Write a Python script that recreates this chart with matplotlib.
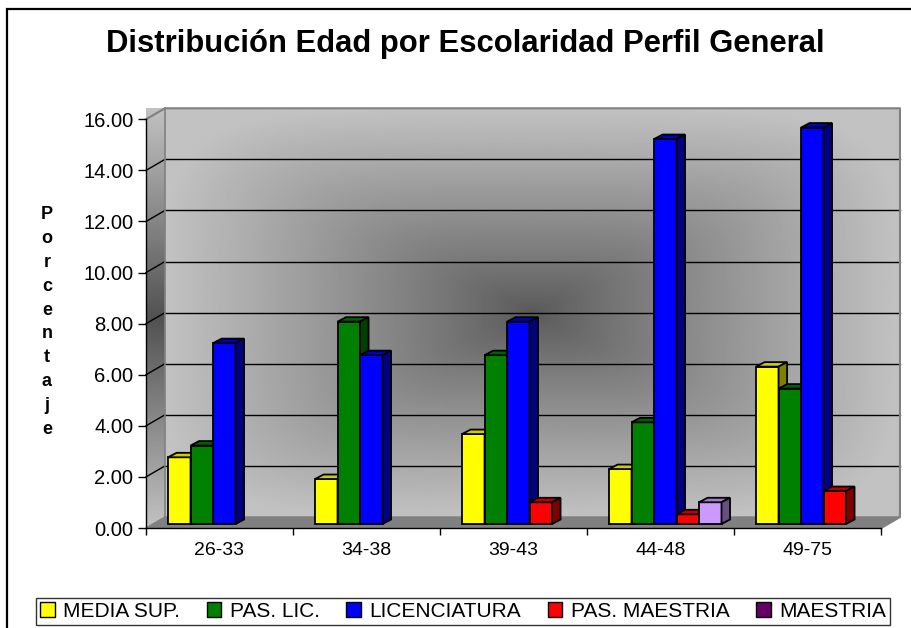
import numpy as np
import matplotlib as mpl
import matplotlib.pyplot as plt
from matplotlib.patches import Polygon, Rectangle, Patch

mpl.rcParams['font.family'] = 'Liberation Sans'

# data (percent)
categories = ['26-33', '34-38', '39-43', '44-48', '49-75']
series_names = ['MEDIA SUP.', 'PAS. LIC.', 'LICENCIATURA', 'PAS. MAESTRIA', 'MAESTRIA']
media_sup = [2.61, 1.76, 3.52, 2.15, 6.16]
pas_lic = [3.07, 7.92, 6.61, 3.98, 5.30]
licenciatura = [7.08, 6.61, 7.92, 15.07, 15.52]
pas_maestria = [0.0, 0.0, 0.85, 0.38, 1.29]
maestria = [0.0, 0.0, 0.0, 0.85, 0.0]
series = [media_sup, pas_lic, licenciatura, pas_maestria, maestria]
yticks = [0, 2, 4, 6, 8, 10, 12, 14, 16]

front_colors = ['#FFFF00', '#008000', '#0000FF', '#FF0000', '#CC99FF']
top_colors = ['#CCCC00', '#006000', '#0000C0', '#C00000', '#A37ACC']
side_colors = ['#808000', '#004000', '#000080', '#800000', '#66507F']
legend_colors = ['#FFFF00', '#008000', '#0000FF', '#FF0000', '#660066']

fig = plt.figure(figsize=(9.12, 6.28), dpi=100)
ax = fig.add_axes([146 / 912, 100 / 628, 735 / 912, 408.7 / 628])

# pseudo-3d offsets (data units)
wx, wy = 0.129, 0.431     # back wall depth
bx, by = 0.058, 0.176     # bar depth
base = 0.157              # bars sit slightly behind the front plane
gap0, bw = 0.15, 0.153    # group start offset, bar width
ncat = len(categories)
ymax = yticks[-1]

# back wall with rectangular gradient (softened corners)
u = np.linspace(-1, 1, 500)
v = np.linspace(-1, 1, 400)
U, V = np.meshgrid(u, v)
t = (np.abs(U) ** 5 + np.abs(V) ** 5) ** 0.2
t = np.clip(t, 0, 1)
wall = 0.35 + 0.41 * t ** 0.9
ax.imshow(wall, cmap='gray', vmin=0, vmax=1, extent=(wx, ncat + wx, wy, ymax + wy),
          aspect='auto', zorder=0, clip_on=False, interpolation='bilinear')

# left side wall
sw = 0.32 + 0.44 * np.abs(V)
im = ax.imshow(sw, cmap='gray', vmin=0, vmax=1, extent=(0, wx, 0, ymax + wy),
               aspect='auto', zorder=0, clip_on=False, interpolation='bilinear')
side_poly = Polygon([(0, 0), (wx, wy), (wx, ymax + wy), (0, ymax)], closed=True,
                    facecolor='none', edgecolor='none', transform=ax.transData)
ax.add_patch(side_poly)
im.set_clip_path(side_poly)

# floor
ax.add_patch(Polygon([(0, 0), (ncat, 0), (ncat + wx, wy), (wx, wy)], closed=True,
                     facecolor='#808080', edgecolor='#808080', lw=1, zorder=1, clip_on=False))

# gridlines on back and side walls
for y in yticks[1:-1]:
    ax.plot([wx, ncat + wx], [y + wy, y + wy], color='black', lw=1, zorder=1, clip_on=False)
    ax.plot([0, wx], [y, y + wy], color='black', lw=1, zorder=1, clip_on=False)

# wall outlines
ax.plot([0, wx, ncat + wx, ncat + wx, ncat], [ymax, ymax + wy, ymax + wy, wy, 0],
        color='#808080', lw=1.5, zorder=1, clip_on=False)
ax.plot([wx, wx], [wy, ymax + wy], color='#808080', lw=1.2, zorder=1, clip_on=False)

# bars, drawn left to right so later fronts cover earlier sides
k = 0
for ci in range(ncat):
    for si, vals in enumerate(series):
        h = vals[ci]
        if h <= 0:
            continue
        x = ci + gap0 + si * bw
        z = 3 + k * 0.01
        k += 1
        ax.bar(x, h, width=bw, bottom=base, align='edge', color=front_colors[si],
               edgecolor='black', lw=1.3, zorder=z)
        top = base + h
        ax.add_patch(Polygon([(x, top), (x + bw, top), (x + bw + bx, top + by), (x + bx, top + by)],
                             closed=True, facecolor=top_colors[si], edgecolor='black', lw=1.3,
                             zorder=z, clip_on=False))
        ax.add_patch(Polygon([(x + bw, base), (x + bw, top), (x + bw + bx, top + by), (x + bw + bx, base + by)],
                             closed=True, facecolor=side_colors[si], edgecolor='black', lw=1.3,
                             zorder=z, clip_on=False))

ax.set_xlim(0, ncat)
ax.set_ylim(0, ymax)
ax.set_facecolor('none')
for s in ['top', 'right']:
    ax.spines[s].set_visible(False)
for s in ['left', 'bottom']:
    ax.spines[s].set_color('black')
    ax.spines[s].set_linewidth(1)
    ax.spines[s].set_zorder(2)

ax.set_yticks(yticks)
ax.set_yticklabels([f'{y:.2f}' for y in yticks])
ax.tick_params(axis='y', length=6, width=1, pad=3, labelsize=14.5)
ax.set_xticks(np.arange(ncat + 1))
ax.set_xticklabels([])
ax.set_xticks(np.arange(ncat) + 0.5, minor=True)
ax.set_xticklabels(categories, minor=True)
ax.tick_params(axis='x', which='major', length=5, width=1, direction='out')
ax.tick_params(axis='x', which='minor', length=0, pad=10, labelsize=14)

fig.text(465 / 912, 1 - 44 / 628, 'Distribución Edad por Escolaridad Perfil General',
         ha='center', va='center', fontsize=22.3, fontweight='bold')
fig.text(47 / 912, 1 - 322 / 628, '\n'.join('Porcentaje'), ha='center', va='center',
         fontsize=13, fontweight='bold', linespacing=1.53)

handles = [Patch(facecolor=c, edgecolor='black', lw=1) for c in legend_colors]
leg = fig.legend(handles, series_names, loc='center', ncol=5, mode='expand',
                 bbox_to_anchor=(36 / 912, 1 / 628, 854 / 912, 31 / 628), borderaxespad=0,
                 fontsize=15, handlelength=0.7, handleheight=0.7, handletextpad=0.4,
                 columnspacing=0.5, fancybox=False, frameon=True, borderpad=0.2)
leg.get_frame().set_edgecolor('black')
leg.get_frame().set_linewidth(1)

fig.patches.append(Rectangle((7 / 912, -0.5), 1.2, 1.5 - 9 / 628, transform=fig.transFigure,
                             fill=False, edgecolor='black', lw=1.6))

fig.savefig('out.png', dpi=100)
